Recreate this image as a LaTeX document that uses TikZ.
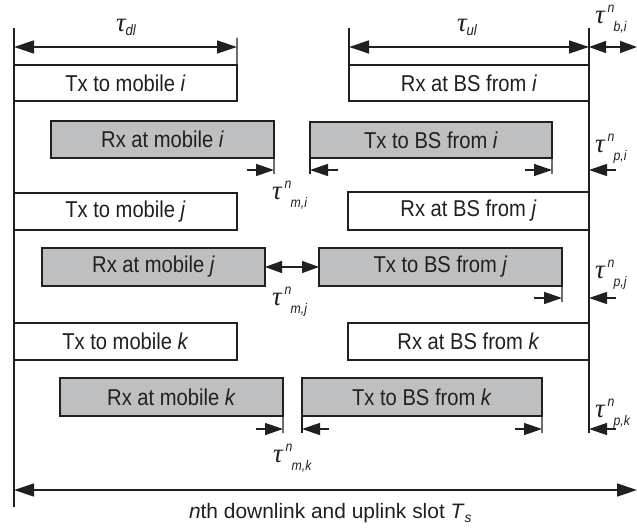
\documentclass[tikz,border=0pt]{standalone}
\usepackage{fontspec}
\setmainfont{Liberation Sans}
\newfontfamily\boxfont{Liberation Sans}[FakeStretch=0.88]
\newfontfamily\taufont{Liberation Serif}
\usetikzlibrary{arrows.meta}
\definecolor{ink}{RGB}{35,31,32}
\definecolor{boxgray}{RGB}{190,191,193}
\newcommand\tauT{{\taufont\itshape\fontsize{27}{27}\selectfont τ}}
\newcommand\smallit[1]{{\boxfont\itshape\fontsize{14}{14}\selectfont #1}}
\newcommand\taunm[1]{\tauT\rlap{\hspace{3bp}\raisebox{11bp}{\smallit{n}}}\hspace{9bp}\raisebox{-8bp}{\smallit{#1}}}
\newcommand\taulow[1]{\tauT\raisebox{-4bp}{{\boxfont\itshape\fontsize{15}{15}\selectfont #1}}}
\begin{document}
\begin{tikzpicture}[x=1bp,y=-1bp,
  every node/.style={text=ink, inner sep=0pt, outer sep=0pt},
  slotbox/.style={draw=ink, line width=1.3bp, anchor=north west,
    font=\boxfont\fontsize{23}{23}\selectfont},
  wbox/.style={slotbox, fill=white},
  gbox/.style={slotbox, fill=boxgray},
  lbl/.style={anchor=base west},
  ln/.style={draw=ink, line width=1.6bp},
  tk/.style={draw=ink, line width=1.3bp},
  arr/.style={draw=ink, line width=1.3bp, -{Triangle[length=18bp,width=12bp]}},
  darr/.style={draw=ink, line width=1.3bp, {Triangle[length=20bp,width=13bp]}-{Triangle[length=20bp,width=13bp]}},
  sdarr/.style={draw=ink, line width=1.3bp, {Triangle[length=17bp,width=12bp]}-{Triangle[length=17bp,width=12bp]}}
]
\useasboundingbox (0,0) rectangle (637,529);
\fill[white] (0,0) rectangle (637,529);

% main time lines
\coordinate (ltop) at (14,28);
\coordinate (lbot) at (14,507);
\coordinate (rtop) at (589,28);
\coordinate (rbot) at (589,433);
\draw[ln] (ltop) -- (lbot);
\draw[ln] (rtop) -- (rbot);

% boxes
\node[wbox, minimum width=223bp, minimum height=36bp] (txi) at (14,65) {Tx to mobile \textit{i}};
\node[wbox, minimum width=240bp, minimum height=36bp] (rxbi) at (349,65) {Rx at BS from \textit{i}};
\node[gbox, minimum width=223bp, minimum height=37bp] (rxmi) at (51,121) {Rx at mobile \textit{i}};
\node[gbox, minimum width=242bp, minimum height=36bp] (txbi) at (310,122) {Tx to BS from \textit{i}};
\node[wbox, minimum width=223bp, minimum height=37bp] (txj) at (14,193) {Tx to mobile \textit{j}};
\node[wbox, minimum width=241bp, minimum height=38bp] (rxbj) at (348,192) {Rx at BS from \textit{j}};
\node[gbox, minimum width=223bp, minimum height=38bp] (rxmj) at (42,248) {Rx at mobile \textit{j}};
\node[gbox, minimum width=243bp, minimum height=38bp] (txbj) at (319,248) {Tx to BS from \textit{j}};
\node[wbox, minimum width=223bp, minimum height=37bp] (txk) at (14,323) {Tx to mobile \textit{k}};
\node[wbox, minimum width=241bp, minimum height=37bp] (rxbk) at (348,323) {Rx at BS from \textit{k}};
\node[gbox, minimum width=223bp, minimum height=38bp] (rxmk) at (60,378) {Rx at mobile \textit{k}};
\node[gbox, minimum width=240bp, minimum height=38bp] (txbk) at (302,378) {Tx to BS from \textit{k}};

% top dimension lines
\coordinate (dlt) at (237,38);
\coordinate (ult) at (349,28);
\draw[tk] (dlt) -- (txi.north east);
\draw[tk] (ult) -- (rxbi.north west);
\coordinate (dlA) at (14,47);
\coordinate (dlB) at (237,47);
\coordinate (ulA) at (349,47);
\coordinate (ulB) at (589,47);
\coordinate (biB) at (637,47);
\draw[darr] (dlA) -- (dlB);
\draw[darr] (ulA) -- (ulB);
\draw[sdarr] (ulB) -- (biB);
\node[lbl] (tdl) at (116,32) {\taulow{dl}};
\node[lbl] (tul) at (457,32) {\taulow{ul}};
\node[lbl] (tbi) at (595,24) {\taunm{b,i}};

% row i offsets
\coordinate (mi1) at (274,174);
\coordinate (ui1) at (310,174);
\coordinate (ui2) at (552,174);
\draw[tk] (rxmi.south east) -- (mi1);
\draw[tk] (txbi.south west) -- (ui1);
\draw[tk] (txbi.south east) -- (ui2);
\coordinate (ai1) at (247,170); \coordinate (ai2) at (274,170);
\coordinate (ai3) at (338,170); \coordinate (ai4) at (310,170);
\coordinate (ai5) at (525,170); \coordinate (ai6) at (552,170);
\coordinate (ai7) at (616,170); \coordinate (ai8) at (589,170);
\draw[arr] (ai1) -- (ai2);
\draw[arr] (ai3) -- (ai4);
\draw[arr] (ai5) -- (ai6);
\draw[arr] (ai7) -- (ai8);
\node[lbl] (tmi) at (272,200) {\taunm{m,i}};
\node[lbl] (tpi) at (595,153) {\taunm{p,i}};

% row j offsets
\draw[sdarr] (rxmj.east) -- (txbj.west);
\coordinate (uj2) at (562,302);
\draw[tk] (txbj.south east) -- (uj2);
\coordinate (aj5) at (534,298); \coordinate (aj6) at (562,298);
\coordinate (aj7) at (616,298); \coordinate (aj8) at (589,298);
\draw[arr] (aj5) -- (aj6);
\draw[arr] (aj7) -- (aj8);
\node[lbl] (tmj) at (272,305) {\taunm{m,j}};
\node[lbl] (tpj) at (595,278) {\taunm{p,j}};

% row k offsets
\coordinate (mk1) at (283,433);
\coordinate (uk1) at (302,433);
\coordinate (uk2) at (542,433);
\draw[tk] (rxmk.south east) -- (mk1);
\draw[tk] (txbk.south west) -- (uk1);
\draw[tk] (txbk.south east) -- (uk2);
\coordinate (ak1) at (256,429); \coordinate (ak2) at (283,429);
\coordinate (ak3) at (329,429); \coordinate (ak4) at (302,429);
\coordinate (ak5) at (515,429); \coordinate (ak6) at (542,429);
\coordinate (ak7) at (616,429); \coordinate (ak8) at (589,429);
\draw[arr] (ak1) -- (ak2);
\draw[arr] (ak3) -- (ak4);
\draw[arr] (ak5) -- (ak6);
\draw[arr] (ak7) -- (ak8);
\node[lbl] (tmk) at (273,462) {\taunm{m,k}};
\node[lbl] (tpk) at (595,417) {\taunm{p,k}};

% slot
\coordinate (sA) at (14,490);
\coordinate (sB) at (637,490);
\draw[darr] (sA) -- (sB);
\node[lbl, font=\fontsize{21}{21}\selectfont] (slot) at (189,518)
  {\textit{n}th downlink and uplink slot \textit{T}\raisebox{-4bp}{\fontsize{14}{14}\selectfont\textit{s}}};
\end{tikzpicture}
\end{document}
